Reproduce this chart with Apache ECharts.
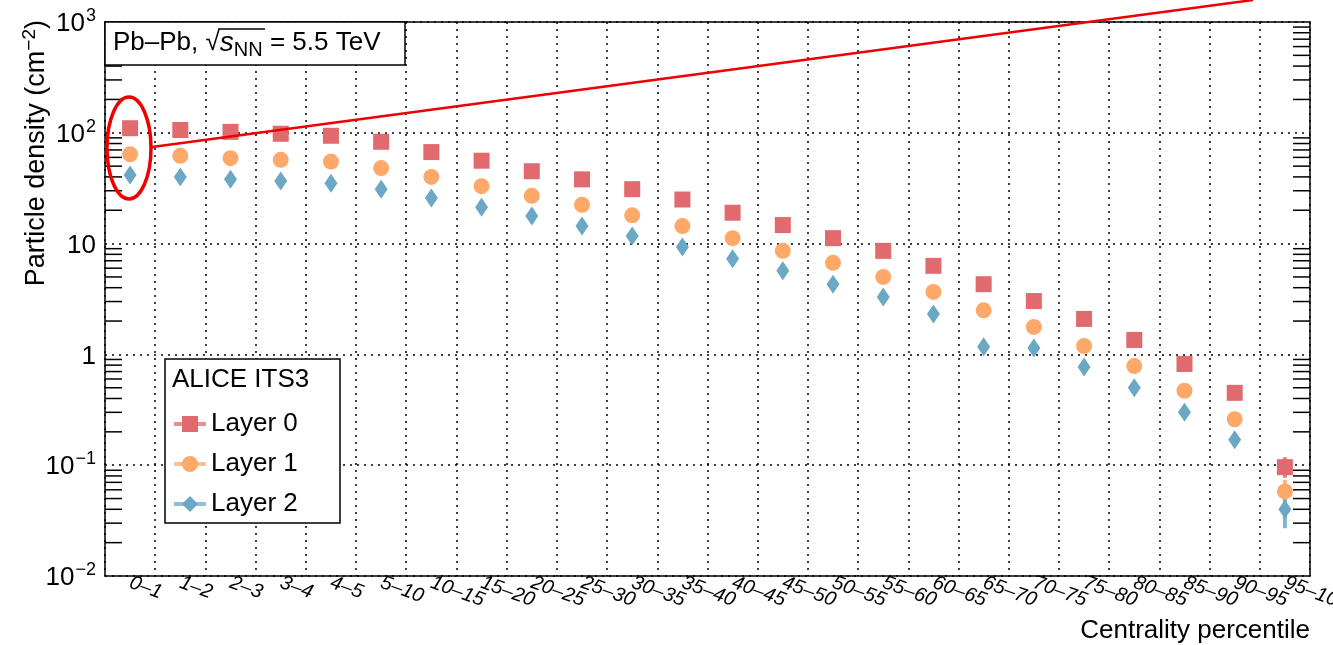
<!DOCTYPE html>
<html lang="en">
<head>
    <meta charset="UTF-8">
    <title>ITS3 particle density</title>
    <style>
        * { padding: 0; margin: 0; }
        #chart { width: 1333px; height: 645px; background: #fff; }
    </style>
</head>
<body>
<div id="chart"></div>
<script src="https://cdn.jsdelivr.net/npm/echarts@6.0.0/dist/echarts.min.js"></script>
<script>
    // centrality bins
    const categories = ['0–1', '1–2', '2–3', '3–4', '4–5', '5–10', '10–15', '15–20', '20–25', '25–30',
        '30–35', '35–40', '40–45', '45–50', '50–55', '55–60', '60–65', '65–70', '70–75', '75–80',
        '80–85', '85–90', '90–95', '95–100']
    // particle density (cm^-2)
    const layer0 = [110, 106, 102, 98, 94, 83, 67, 56, 45, 38, 31, 25, 19, 14.7, 11.2, 8.6, 6.3, 4.3, 3.03, 2.09, 1.35, 0.82, 0.45, 0.096]
    const layer1 = [64, 62, 59, 57, 55, 48, 40, 33, 27, 22.4, 18, 14.4, 11.2, 8.6, 6.7, 5.0, 3.66, 2.5, 1.77, 1.19, 0.785, 0.47, 0.26, 0.058]
    const layer2 = [41.6, 40, 38, 36.7, 35, 31, 25.8, 21.3, 17.7, 14.4, 11.7, 9.3, 7.3, 5.7, 4.3, 3.3, 2.32, 1.17, 1.14, 0.77, 0.5, 0.30, 0.17, 0.040]
    // visible error bars (only the last bin)
    const errBin = 23
    const errLow = [0.077, 0.048, 0.027]
    const errHigh = [0.118, 0.074, 0.052]
    const layerNames = ['Layer 0', 'Layer 1', 'Layer 2']
    const colors = ['#e06a6d', '#fea86a', '#6ba8c5']
    const yTicks = [0.01, 0.1, 1, 10, 100, 1000]

    const font = 'Liberation Sans, Arial, sans-serif'
    const supLabel = {
        0.01: '{b|10}{s|−2}', 0.1: '{b|10}{s|−1}', 1: '{b|1}', 10: '{b|10}', 100: '{b|10}{s|2}', 1000: '{b|10}{s|3}'
    }

    // minor tick values 2..9 per decade
    const minorTicks = []
    for (let d = 0; d < yTicks.length - 1; d++) {
        for (let k = 2; k <= 9; k++) minorTicks.push([0, +(yTicks[d] * k).toPrecision(3)])
    }

    let chart = echarts.init(document.getElementById('chart'))
    const dotted = { color: '#000', width: 1.5, type: [2, 5] }

    const markerSeries = [layer0, layer1, layer2].map((vals, i) => ({
        name: layerNames[i],
        type: 'line',
        data: vals,
        symbol: ['rect', 'circle', 'diamond'][i],
        symbolSize: [[16, 16], 16, [13, 19]][i],
        showSymbol: true,
        showAllSymbol: true,
        lineStyle: { opacity: 0 },
        itemStyle: { color: colors[i], opacity: 1 },
        z: 5,
        silent: true
    }))

    const errorSeries = {
        type: 'custom',
        silent: true,
        z: 4,
        data: errLow.map((lo, i) => [errBin, lo, errHigh[i], i]),
        encode: { x: 0, y: [1, 2] },
        renderItem: (params, api) => {
            let a = api.coord([api.value(0), api.value(1)])
            let b = api.coord([api.value(0), api.value(2)])
            return {
                type: 'line',
                shape: { x1: a[0], y1: a[1], x2: b[0], y2: b[1] },
                style: { stroke: colors[api.value(3)], lineWidth: 4, opacity: 0.85 }
            }
        }
    }

    const minorTickSeries = {
        type: 'custom',
        silent: true,
        clip: false,
        z: 3,
        data: minorTicks,
        encode: { x: 0, y: 1 },
        renderItem: (params, api) => {
            let y = api.coord([0, api.value(1)])[1]
            let cs = params.coordSys
            return {
                type: 'group',
                children: [
                    { type: 'line', shape: { x1: cs.x, y1: y, x2: cs.x + 17, y2: y }, style: { stroke: '#000', lineWidth: 1.5 } },
                    { type: 'line', shape: { x1: cs.x + cs.width - 17, y1: y, x2: cs.x + cs.width, y2: y }, style: { stroke: '#000', lineWidth: 1.5 } }
                ]
            }
        }
    }

    const option = {
        backgroundColor: '#fff',
        animation: false,
        textStyle: { fontFamily: font },
        grid: { left: 105, right: 23, top: 22, bottom: 69, containLabel: false, outerBoundsMode: 'none' },
        legend: {
            data: layerNames,
            orient: 'vertical',
            left: 167,
            top: 406,
            itemWidth: 32,
            itemHeight: 20,
            itemGap: 14,
            selectedMode: false,
            lineStyle: { width: 4, opacity: 0.75 },
            textStyle: { fontSize: 26, color: '#000', fontFamily: font }
        },
        xAxis: [{
            type: 'category',
            data: categories,
            position: 'bottom',
            axisLine: { lineStyle: { color: '#000', width: 1.5 } },
            axisTick: { inside: true, length: 16, interval: 0, lineStyle: { color: '#000', width: 1.5 } },
            splitLine: { show: true, interval: 0, lineStyle: dotted },
            axisLabel: {
                interval: 0,
                rotate: -20,
                margin: 6,
                fontSize: 20,
                fontStyle: 'italic',
                color: '#000',
                fontFamily: font,
                hideOverlap: false
            }
        }, {
            type: 'category',
            data: categories,
            position: 'top',
            axisLine: { lineStyle: { color: '#000', width: 1.5 } },
            axisTick: { inside: true, length: 16, interval: 0, lineStyle: { color: '#000', width: 1.5 } },
            axisLabel: { show: false },
            splitLine: { show: false }
        }],
        yAxis: [{
            type: 'log',
            logBase: 10,
            min: 0.01,
            max: 1000,
            position: 'left',
            axisLine: { show: true, lineStyle: { color: '#000', width: 1.5 } },
            axisTick: { inside: true, length: 33, lineStyle: { color: '#000', width: 1.5 } },
            splitLine: { show: true, lineStyle: dotted },
            axisLabel: {
                margin: 9,
                color: '#000',
                formatter: v => supLabel[+v.toPrecision(3)] || '',
                rich: {
                    b: { fontSize: 26, fontFamily: font, color: '#000', lineHeight: 30, verticalAlign: 'bottom' },
                    s: { fontSize: 18, fontFamily: font, color: '#000', lineHeight: 17, verticalAlign: 'top', padding: [0, 0, 0, 1] }
                }
            }
        }, {
            type: 'log',
            logBase: 10,
            min: 0.01,
            max: 1000,
            position: 'right',
            axisLine: { show: true, lineStyle: { color: '#000', width: 1.5 } },
            axisTick: { inside: true, length: 33, lineStyle: { color: '#000', width: 1.5 } },
            axisLabel: { show: false },
            splitLine: { show: false }
        }],
        series: [minorTickSeries, errorSeries].concat(markerSeries),
        graphic: [
            // system label box
            {
                type: 'rect',
                shape: { x: 105, y: 22, width: 300, height: 43 },
                style: { fill: '#fff', stroke: '#000', lineWidth: 1.5 },
                z: 50
            },
            {
                type: 'text',
                x: 113, y: 43,
                z: 51,
                style: {
                    text: '{n|Pb–Pb, √}{i|s}{u|NN}{n| = 5.5 TeV}',
                    textVerticalAlign: 'middle',
                    rich: {
                        n: { fontSize: 26, fontFamily: font, fill: '#000', lineHeight: 34 },
                        i: { fontSize: 28, fontFamily: font, fill: '#000', fontStyle: 'italic', lineHeight: 34 },
                        u: { fontSize: 20, fontFamily: font, fill: '#000', lineHeight: 18, verticalAlign: 'bottom' }
                    }
                }
            },
            {
                type: 'line',
                z: 51,
                shape: { x1: 218, y1: 29, x2: 265, y2: 29 },
                style: { stroke: '#000', lineWidth: 1.5 }
            },
            // legend box
            {
                type: 'rect',
                shape: { x: 165, y: 359, width: 175, height: 164 },
                style: { fill: '#fff', stroke: '#000', lineWidth: 1.5 },
                z: 1
            },
            {
                type: 'text',
                x: 172, y: 380,
                z: 51,
                style: { text: 'ALICE ITS3', fontSize: 26, fontFamily: font, fill: '#000', textVerticalAlign: 'middle' }
            },
            // axis titles
            {
                type: 'text',
                x: 35, y: 20,
                rotation: Math.PI / 2,
                style: {
                    text: '{n|Particle density (cm}{s|−2}{n|)}',
                    textAlign: 'right',
                    textVerticalAlign: 'middle',
                    rich: {
                        n: { fontSize: 27, fontFamily: font, fill: '#000', lineHeight: 30, verticalAlign: 'bottom' },
                        s: { fontSize: 19, fontFamily: font, fill: '#000', lineHeight: 17, verticalAlign: 'top' }
                    }
                }
            },
            {
                type: 'text',
                x: 1310, y: 631,
                style: { text: 'Centrality percentile', fontSize: 26, fontFamily: font, fill: '#000', textAlign: 'right', textVerticalAlign: 'middle' }
            },
            // red annotation
            {
                type: 'ellipse',
                shape: { cx: 129, cy: 148, rx: 22, ry: 51 },
                style: { fill: 'none', stroke: '#ee0000', lineWidth: 3.5 },
                z: 60
            },
            {
                type: 'line',
                shape: { x1: 152, y1: 147, x2: 1253, y2: 0 },
                style: { stroke: '#ee0000', lineWidth: 2.5 },
                z: 60
            }
        ]
    }
    chart.setOption(option)
</script>
</body>
</html>
